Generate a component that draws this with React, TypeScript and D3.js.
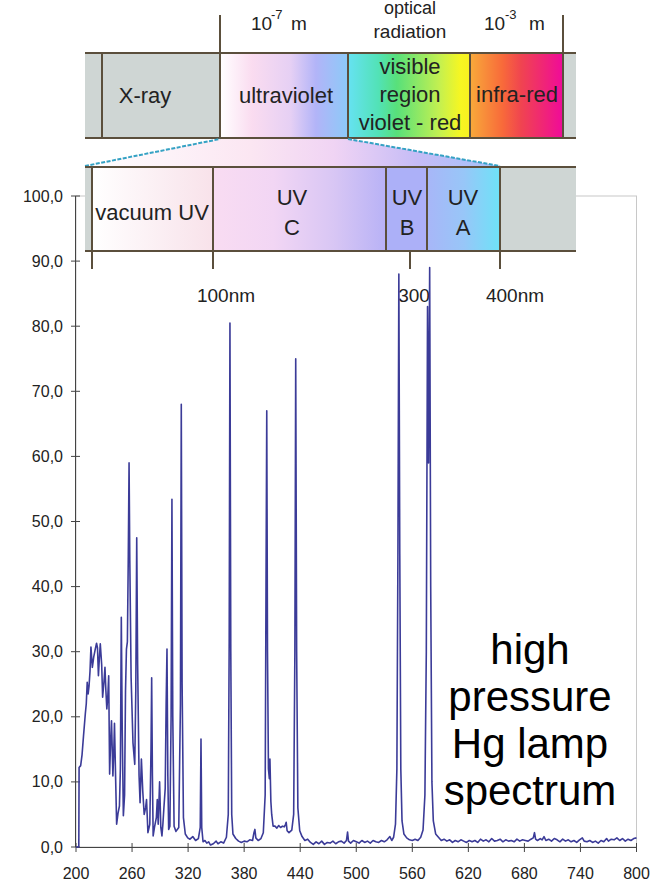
import React from "react";
import * as d3 from "d3";

// spectrum: wavelength (nm) and relative intensity
const wavelength = [
  200, 203, 203.3, 205, 206.5, 208, 210, 211, 212, 213, 214, 215, 216, 217.5, 219, 220.5, 222, 223, 224, 225,
  226, 227.5, 228.5, 230, 231, 232, 233, 234, 235, 236, 237, 238, 239.5, 240.5, 241.2, 242.2, 243.5, 245, 246.5, 247.5,
  248.5, 249.5, 250.7, 252, 253, 254, 255, 256, 256.8, 257.6, 259, 261, 262.9, 264, 265, 266, 267.5, 268.6, 270, 271.5,
  273, 274.5, 275.5, 277, 279, 280.3, 281, 281.8, 282.6, 284, 286, 287, 288, 289.5, 290.8, 292, 293, 294, 295.5, 296.5,
  297.4, 298.3, 299.2, 300.5, 301.8, 302.7, 303.6, 305, 307, 310, 311.8, 312.7, 313.6, 315, 317, 319.6, 322, 325, 328, 331,
  333, 333.8, 334.6, 336, 338, 340, 342, 344, 347, 350, 352, 355, 358, 361, 363, 364, 364.8, 365.7, 366.7, 368,
  371, 374, 377, 380, 383, 386, 389, 390.5, 391.5, 392.5, 395, 398, 400.5, 402.5, 403.4, 404.2, 405, 406, 407, 407.6,
  408.6, 409.5, 411, 413, 415, 417, 419, 421, 423, 424.3, 425, 426, 428, 431, 433, 434.3, 435.2, 436.2, 437.5, 439.5,
  442, 445, 448, 451, 454, 457, 460, 463, 466, 469, 472, 475, 478, 481, 484, 487, 489.5, 490.7, 491.7, 494,
  497, 500, 503, 506, 509, 512, 515, 518, 521, 524, 527, 530, 533, 536, 538, 540, 542, 543.5, 544.6, 545.6,
  546.6, 547.7, 549, 551, 554, 557, 560, 563, 566, 569, 571.5, 573.5, 575, 576.3, 577.4, 578.6, 579.7, 581, 582.5, 585,
  588, 591, 594, 597, 600, 603, 606, 609, 612, 615, 618, 621, 624, 627, 630, 633, 636, 639, 642, 645,
  648, 651, 654, 657, 660, 663, 666, 669, 672, 675, 678, 681, 684, 687, 689.5, 690.8, 692, 694, 697, 699,
  701, 703, 706, 709, 712, 715, 718, 721, 724, 727, 730, 733, 736, 739, 742, 744, 747, 750, 753, 756,
  759, 762, 765, 768, 770, 773, 776, 779, 782, 785, 788, 791, 794, 797, 800,
];
const intensity = [
  0, 0, 12.2, 12.5, 14.2, 17, 20.5, 22, 25.3, 23.5, 24.8, 27, 30.7, 27.6, 29.2, 30.3, 31.3, 30.6, 26.3, 29,
  31.2, 28, 23, 25.5, 27.6, 24, 21.2, 23, 26.3, 11.2, 16, 19.4, 10.9, 15, 19, 12, 3.5, 5.2, 6.3, 12,
  35.3, 18, 4.8, 8, 24, 30.4, 31.5, 45, 59, 44, 26, 16, 12.7, 24, 47.5, 28, 11, 6.8, 13.5, 8.5,
  5, 6, 7.3, 2.2, 3.5, 15, 26, 11, 1.7, 3, 4.5, 7.3, 3.5, 10, 3, 1.7, 3.5, 5.8, 9, 22,
  30.4, 11, 2.7, 3.2, 20, 53.4, 20, 3.2, 2.4, 3, 22, 68, 25, 4.5, 2, 1.4, 1.2, 1.6, 1.0, 1.3,
  3, 16.6, 3, 0.8, 1.0, 0.6, 0.8, 0.3, 0.5, 0.9, 0.5, 0.8, 0.6, 1.5, 5, 32, 80.5, 30, 5, 2,
  1.3, 0.9, 0.7, 0.9, 0.8, 1.1, 1.0, 2.2, 2.7, 1.4, 1.0, 1.3, 2.2, 8, 40, 67, 30, 12, 10.5, 13.5,
  7, 5, 3.2, 3.2, 2.9, 3.3, 3.0, 3.2, 3.1, 3.5, 3.8, 2.5, 2.2, 2.6, 5, 30, 75, 30, 6, 2.5,
  1.6, 1.0, 1.2, 0.7, 0.4, 0.8, 0.5, 0.9, 0.4, 0.7, 0.6, 0.9, 0.5, 0.8, 0.9, 0.6, 1.0, 2.3, 0.9, 0.6,
  1.0, 0.8, 0.6, 1.0, 0.7, 0.9, 0.6, 1.0, 0.8, 0.7, 1.0, 0.8, 1.1, 1.6, 1.0, 1.5, 3.5, 12, 45, 88,
  45, 12, 4, 2, 1.4, 1.1, 1.0, 1.2, 1.0, 1.5, 2.6, 8, 30, 83, 59, 89, 40, 10, 4, 2,
  1.5, 1.0, 1.2, 0.9, 1.1, 0.7, 1.0, 0.8, 1.1, 0.9, 0.7, 1.0, 0.8, 1.0, 0.7, 1.2, 0.9, 1.1, 0.8, 1.3,
  0.9, 1.0, 1.2, 0.8, 1.1, 0.9, 1.0, 0.8, 1.2, 0.9, 1.1, 1.0, 0.9, 1.2, 1.4, 2.2, 1.2, 1.0, 1.3, 1.1,
  1.6, 1.0, 1.2, 0.9, 1.3, 1.1, 0.8, 1.2, 0.9, 1.1, 0.8, 1.0, 0.7, 1.1, 1.4, 0.9, 0.8, 1.0, 0.7, 0.9,
  0.6, 1.0, 0.8, 1.3, 0.9, 1.2, 1.1, 1.4, 1.0, 1.3, 0.9, 1.2, 1.0, 1.3, 1.4,
];

const xTicks = [200, 260, 320, 380, 440, 500, 560, 620, 680, 740, 800];
const yTicks = [0, 10, 20, 30, 40, 50, 60, 70, 80, 90, 100];

// banner texts
const emLabels = ["X-ray", "ultraviolet", "infra-red"];
const visibleLines = ["visible", "region", "violet - red"];
const uvLabels = ["vacuum UV", "UV C", "UV B", "UV A"];
const nmLabels = ["100nm", "300", "400nm"];
const noteLines = ["high", "pressure", "Hg lamp", "spectrum"];

const FONT = "'Liberation Sans', Arial, sans-serif";
const BORDER = "#5b4f3c";
const GRAY = "#cfd6d4";

const fmt = d3.formatLocale({ decimal: ",", thousands: ".", grouping: [3], currency: ["", ""] }).format(".1f");

const App = () => {
  const x = d3.scaleLinear().domain([200, 800]).range([76, 636.5]);
  const y = d3.scaleLinear().domain([0, 100]).range([847, 196]);

  const pts = wavelength.map((w, i) => [w, intensity[i]] as [number, number]);
  const spectrumLine = d3
    .line<[number, number]>()
    .x((d) => x(d[0]))
    .y((d) => y(d[1]));

  const x0 = x.range()[0];
  const x1 = x.range()[1];

  return (
    <svg
      width={650}
      height={883}
      style={{ position: "absolute", left: 0, top: 0, background: "#fff" }}
      fontFamily={FONT}
    >
      <defs>
        <linearGradient id="uvTop" x1="0" x2="1" y1="0" y2="0">
          <stop offset="0" stopColor="#ffffff" />
          <stop offset="0.25" stopColor="#fadcf0" />
          <stop offset="0.55" stopColor="#e6d0f4" />
          <stop offset="0.75" stopColor="#b2b4f8" />
          <stop offset="1" stopColor="#8ccaf8" />
        </linearGradient>
        <linearGradient id="visTop" x1="0" x2="1" y1="0" y2="0">
          <stop offset="0" stopColor="#66e2f2" />
          <stop offset="0.25" stopColor="#52e2b6" />
          <stop offset="0.4" stopColor="#58e07a" />
          <stop offset="0.75" stopColor="#c4f050" />
          <stop offset="0.92" stopColor="#f6f622" />
          <stop offset="1" stopColor="#f8f020" />
        </linearGradient>
        <linearGradient id="irTop" x1="0" x2="1" y1="0" y2="0">
          <stop offset="0" stopColor="#f8aa3a" />
          <stop offset="0.35" stopColor="#f86a3a" />
          <stop offset="0.55" stopColor="#f04450" />
          <stop offset="0.8" stopColor="#f02478" />
          <stop offset="1" stopColor="#f00a9a" />
        </linearGradient>
        <linearGradient id="trap" x1="85" x2="500" y1="0" y2="0" gradientUnits="userSpaceOnUse">
          <stop offset="0" stopColor="#ffffff" />
          <stop offset="0.4" stopColor="#fbe6f2" />
          <stop offset="0.6" stopColor="#f0d4f4" />
          <stop offset="0.8" stopColor="#c6bcf6" />
          <stop offset="1" stopColor="#a2c2f8" />
        </linearGradient>
        <linearGradient id="vuv" x1="0" x2="1" y1="0" y2="0">
          <stop offset="0" stopColor="#ffffff" />
          <stop offset="1" stopColor="#f8e2ea" />
        </linearGradient>
        <linearGradient id="uvc" x1="0" x2="1" y1="0" y2="0">
          <stop offset="0" stopColor="#f9dcf2" />
          <stop offset="0.35" stopColor="#f2d6f4" />
          <stop offset="0.7" stopColor="#d8c6f4" />
          <stop offset="1" stopColor="#b8b2f6" />
        </linearGradient>
        <linearGradient id="uva" x1="0" x2="1" y1="0" y2="0">
          <stop offset="0" stopColor="#a8b6f8" />
          <stop offset="0.5" stopColor="#98c6f8" />
          <stop offset="1" stopColor="#6ee2f8" />
        </linearGradient>
      </defs>

      {/* plot frame */}
      <rect x={x0} y={y(100)} width={x1 - x0} height={y(0) - y(100)} fill="none" stroke="#c8c8c8" />

      {/* y axis */}
      <line x1={75.5} x2={75.5} y1={y(100)} y2={y(0)} stroke="#444" />
      {yTicks.map((t) => (
        <g key={t}>
          <line x1={71} x2={80} y1={y(t)} y2={y(t)} stroke="#444" />
          <text x={63} y={y(t) + 5.5} textAnchor="end" fontSize={16} fill="#222">
            {fmt(t)}
          </text>
        </g>
      ))}

      {/* x axis */}
      <line x1={x0} x2={x1} y1={847.5} y2={847.5} stroke="#444" />
      {xTicks.map((t) => (
        <g key={t}>
          <line x1={x(t)} x2={x(t)} y1={843} y2={852} stroke="#444" />
          <text x={x(t)} y={879} textAnchor="middle" fontSize={16} fill="#222">
            {t}
          </text>
        </g>
      ))}

      {/* electromagnetic spectrum banner */}
      <line x1={220} x2={220} y1={15} y2={53} stroke={BORDER} strokeWidth={2} />
      <line x1={563} x2={563} y1={15} y2={53} stroke={BORDER} strokeWidth={2} />
      <text x={251} y={30} fontSize={19} fill="#222">10</text>
      <text x={271} y={19} fontSize={13} fill="#222">-7</text>
      <text x={291} y={30} fontSize={19} fill="#222">m</text>
      <text x={484} y={30} fontSize={19} fill="#222">10</text>
      <text x={505} y={19} fontSize={13} fill="#222">-3</text>
      <text x={529} y={30} fontSize={19} fill="#222">m</text>
      <text x={410} y={14} fontSize={18} textAnchor="middle" fill="#222">optical</text>
      <text x={410} y={38} fontSize={19} textAnchor="middle" fill="#222">radiation</text>

      <rect x={85} y={53} width={135} height={85} fill={GRAY} />
      <rect x={220} y={53} width={128} height={85} fill="url(#uvTop)" />
      <rect x={348} y={53} width={122} height={85} fill="url(#visTop)" />
      <rect x={470} y={53} width={93} height={85} fill="url(#irTop)" />
      <rect x={563} y={53} width={13} height={85} fill={GRAY} />
      <line x1={85} x2={576} y1={53} y2={53} stroke={BORDER} strokeWidth={2} />
      <line x1={85} x2={576} y1={138} y2={138} stroke={BORDER} strokeWidth={2} />
      {[102, 220, 348, 470, 563].map((v) => (
        <line key={v} x1={v} x2={v} y1={53} y2={138} stroke={BORDER} strokeWidth={2} />
      ))}
      <text x={145} y={103} fontSize={22} textAnchor="middle" fill="#222">{emLabels[0]}</text>
      <text x={286} y={103} fontSize={22} textAnchor="middle" fill="#222">{emLabels[1]}</text>
      <text x={517} y={102} fontSize={22} textAnchor="middle" fill="#222">{emLabels[2]}</text>
      {visibleLines.map((s, i) => (
        <text key={s} x={410} y={74 + i * 28} fontSize={22} textAnchor="middle" fill="#222">
          {s}
        </text>
      ))}

      {/* zoom trapezoid */}
      <polygon points="220,139 348,139 500,166 85,166" fill="url(#trap)" />
      <line x1={85} y1={166} x2={220} y2={139} stroke="#35a2c4" strokeWidth={2} strokeDasharray="4 1.5" />
      <line x1={348} y1={139} x2={500} y2={166} stroke="#35a2c4" strokeWidth={2} strokeDasharray="4 1.5" />

      {/* UV sub-band */}
      <rect x={85} y={167} width={7} height={84} fill={GRAY} />
      <rect x={92} y={167} width={121} height={84} fill="url(#vuv)" />
      <rect x={213} y={167} width={173} height={84} fill="url(#uvc)" />
      <rect x={386} y={167} width={41} height={84} fill="#acb0f8" />
      <rect x={427} y={167} width={73} height={84} fill="url(#uva)" />
      <rect x={500} y={167} width={76} height={84} fill={GRAY} />
      <line x1={85} x2={576} y1={167} y2={167} stroke={BORDER} strokeWidth={2} />
      <line x1={85} x2={576} y1={251} y2={251} stroke={BORDER} strokeWidth={2} />
      <line x1={92} x2={92} y1={167} y2={269} stroke={BORDER} strokeWidth={2} />
      <line x1={213} x2={213} y1={167} y2={269} stroke={BORDER} strokeWidth={2} />
      <line x1={386} x2={386} y1={167} y2={251} stroke={BORDER} strokeWidth={2} />
      <line x1={427} x2={427} y1={167} y2={251} stroke={BORDER} strokeWidth={2} />
      <line x1={500} x2={500} y1={167} y2={269} stroke={BORDER} strokeWidth={2} />
      <line x1={410} x2={410} y1={251} y2={269} stroke={BORDER} strokeWidth={2} />
      <text x={152} y={220} fontSize={22} textAnchor="middle" fill="#222">{uvLabels[0]}</text>
      {[
        [uvLabels[1], 292],
        [uvLabels[2], 407],
        [uvLabels[3], 463],
      ].map(([s, cx]) => {
        const [a, b] = (s as string).split(" ");
        return (
          <g key={s as string}>
            <text x={cx as number} y={205} fontSize={22} textAnchor="middle" fill="#222">{a}</text>
            <text x={cx as number} y={235} fontSize={22} textAnchor="middle" fill="#222">{b}</text>
          </g>
        );
      })}
      <text x={226} y={302} fontSize={19} textAnchor="middle" fill="#222">{nmLabels[0]}</text>
      <text x={414} y={302} fontSize={19} textAnchor="middle" fill="#222">{nmLabels[1]}</text>
      <text x={515} y={302} fontSize={19} textAnchor="middle" fill="#222">{nmLabels[2]}</text>

      {/* spectrum */}
      <path d={spectrumLine(pts) || ""} fill="none" stroke="#3b3b98" strokeWidth={1.6} strokeLinejoin="round" />

      {/* note */}
      {noteLines.map((s, i) => (
        <text key={s} x={530} y={664 + i * 47} fontSize={42} textAnchor="middle" fill="#000">
          {s}
        </text>
      ))}
    </svg>
  );
};

export default App;
